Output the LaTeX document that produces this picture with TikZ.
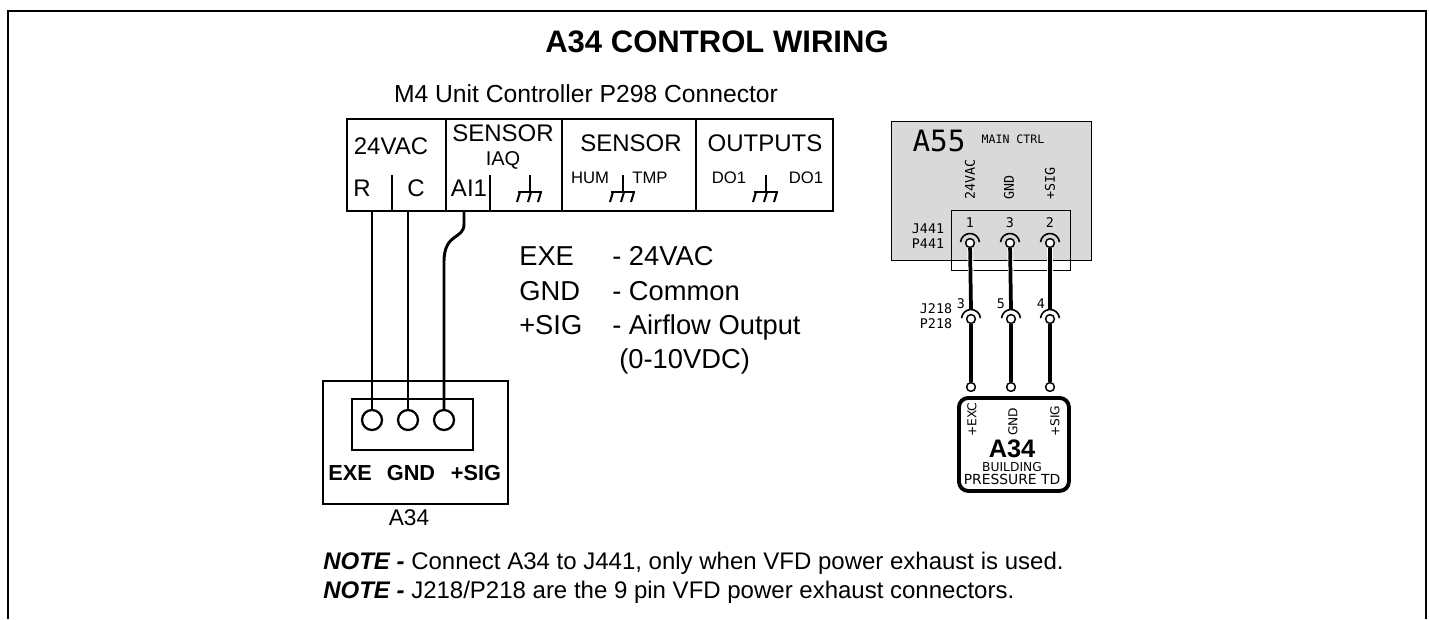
\documentclass[tikz,border=0pt]{standalone}
\usepackage{fontspec}
\setmainfont{Liberation Sans}
\newfontfamily\monofont{DejaVu Sans Mono}
\newfontfamily\dejafont{DejaVu Sans}
\usetikzlibrary{positioning}
\tikzset{
  wire/.style={line width=2.8pt},
  thinwire/.style={line width=2.2pt},
  pin/.style={circle,draw,line width=1.1pt,fill=white,inner sep=0pt,minimum size=6.6pt},
  bigpin/.style={circle,draw,line width=1.7pt,inner sep=0pt,minimum size=15pt},
  boxed/.style={draw,line width=1.8pt,inner sep=0pt,anchor=north west},
  small/.style={inner sep=0pt,font=\fontsize{12.5}{14}\selectfont},
  mono/.style={inner sep=0pt,font=\monofont\fontsize{10}{11}\selectfont},
  deja/.style={inner sep=0pt,font=\dejafont\fontsize{9.2}{10}\selectfont},
}
\newcommand{\groundmark}[2]{%
  \draw[line width=1.5pt] (#1,#2) -- (#1,#2+17);
  \draw[line width=1.5pt] (#1-12,#2+17) -- (#1+12,#2+17);
  \foreach \k in {-10,1,11} \draw[line width=1.5pt] (#1+\k,#2+17) -- (#1+\k-3,#2+27);
}
\begin{document}
\begin{tikzpicture}[x=0.75pt,y=-0.75pt]

  \useasboundingbox (0,0) rectangle (1429,619);
  \draw[line width=2.2pt] (8,619) -- (8,11) -- (1426,11) -- (1426,619);

  \node[font=\bfseries\fontsize{23.3}{26}\selectfont,inner sep=0pt] (title) at (717,42) {A34 CONTROL WIRING};
  \node[inner sep=0pt,font=\fontsize{18.5}{20}\selectfont] (p298) at (586,94) {M4 Unit Controller P298 Connector};

  % controller terminal strip
  \node[boxed,minimum width=486*0.75pt,minimum height=92*0.75pt] (strip) at (346,118) {};
  \foreach \x in {446,562,696} \draw[line width=1.8pt] (\x,118) -- (\x,212);
  \foreach \x in {392,490} \draw[line width=1.8pt] (\x,175) -- (\x,212);

  \begin{scope}[every node/.style={inner sep=0pt,font=\fontsize{18}{20}\selectfont}]
    \node (vac)  at (391,146) {24VAC};
    \node (r)    at (362,188) {R};
    \node (c)    at (416,188) {C};
    \node (ai1)  at (469,188) {AI1};
    \node (sen1) at (503,133) {SENSOR};
    \node (sen2) at (631,143) {SENSOR};
    \node (outs) at (765,143) {OUTPUTS};
  \end{scope}
  \node[inner sep=0pt,font=\fontsize{15}{17}\selectfont] (iaq) at (503,160) {IAQ};
  \node[small] (hum)  at (590,178) {HUM};
  \node[small] (tmp)  at (650,178) {TMP};
  \node[small] (dol)  at (729,178) {DO1};
  \node[small] (dor)  at (806,178) {DO1};
  \groundmark{530}{175}
  \groundmark{623}{175}
  \groundmark{766}{175}

  % legend
  \begin{scope}[every node/.style={inner sep=0pt,anchor=base west,font=\fontsize{20.5}{22}\selectfont}]
    \node (exe)  at (519,265) {EXE};
    \node (gnd)  at (519,300) {GND};
    \node (sig)  at (519,334) {+SIG};
    \node (lexe) at (612,265) {- 24VAC};
    \node (lgnd) at (612,300) {- Common};
    \node (lsig) at (612,334) {- Airflow Output};
    \node (lvdc) at (619,368) {(0-10VDC)};
  \end{scope}

  % A34 terminal box
  \node[boxed,minimum width=185*0.75pt,minimum height=123*0.75pt] (a34box) at (322,380) {};
  \node[boxed,minimum width=121*0.75pt,minimum height=51*0.75pt] (a34term) at (351,398) {};
  \node[bigpin] (t1) at (372,420) {};
  \node[bigpin] (t2) at (408,420) {};
  \node[bigpin] (t3) at (444,420) {};
  \node[inner sep=0pt,font=\bfseries\fontsize{16.3}{18}\selectfont] (lt1) at (350,473) {EXE};
  \node[inner sep=0pt,font=\bfseries\fontsize{16.3}{18}\selectfont] (lt2) at (411,473) {GND};
  \node[inner sep=0pt,font=\bfseries\fontsize{16.3}{18}\selectfont] (lt3) at (476,473) {+SIG};
  \node[inner sep=0pt,font=\fontsize{17}{19}\selectfont] (a34name) at (409,518) {A34};

  \coordinate (sr) at (372,210);
  \coordinate (sc) at (408,210);
  \coordinate (sa) at (464,210);
  \draw[thinwire] (sr) -- (t1);
  \draw[thinwire] (sc) -- (t2);
  \draw[thinwire] (sa) -- ++(0,14) .. controls (464,240) and (444,232) .. (444,262) -- (t3);

  % A55 board
  \node[boxed,fill=black!15,line width=1pt,minimum width=200*0.75pt,minimum height=139*0.75pt] (a55) at (891,121) {};
  \node[boxed,line width=1pt,minimum width=119*0.75pt,minimum height=60*0.75pt] (j441) at (951,210) {};
  \node[inner sep=0pt,font=\monofont\fontsize{22}{24}\selectfont] (a55name) at (939,141) {A55};
  \node[mono,font=\monofont\fontsize{8.7}{10}\selectfont] (ctrl) at (1013,139) {MAIN CTRL};
  \node[mono,rotate=90,anchor=west] (l24) at (970,200) {24VAC};
  \node[mono,rotate=90,anchor=west] (lgn) at (1009,200) {GND};
  \node[mono,rotate=90,anchor=west] (lsg) at (1050,200) {+SIG};
  \node[mono,align=right] (j441l) at (928,236) {J441\\P441};
  \node[mono] (n1) at (970,223) {1};
  \node[mono] (n3) at (1010,223) {3};
  \node[mono] (n2) at (1050,223) {2};

  \node[pin] (a1) at (970,243) {};
  \node[pin] (a2) at (1010,243) {};
  \node[pin] (a3) at (1050,243) {};
  \node[pin] (b1) at (971,319) {};
  \node[pin] (b2) at (1011,319) {};
  \node[pin] (b3) at (1050,319) {};
  \node[pin] (c1) at (971,387) {};
  \node[pin] (c2) at (1011,387) {};
  \node[pin] (c3) at (1050,387) {};

  \foreach \x in {970,1010,1050} \draw[line width=1.2pt] (\x,243) ++(-5:9.5) arc (-5:-175:9.5);
  \foreach \x in {971,1011,1050} \draw[line width=1.2pt] (\x,319) ++(-5:9.5) arc (-5:-175:9.5);

  \coordinate (e1) at (971,309);
  \coordinate (e2) at (1011,309);
  \coordinate (e3) at (1050,309);
  \draw[white,line width=4.4pt] (a1) -- (971,280) (a2) -- (1011,280) (a3) -- (1050,280);
  \draw[wire] (a1) -- (e1);
  \draw[wire] (a2) -- (e2);
  \draw[wire] (a3) -- (e3);
  \draw[wire] (b1) -- (c1);
  \draw[wire] (b2) -- (c2);
  \draw[wire] (b3) -- (c3);

  \node[mono,align=right] (j218l) at (936,316) {J218\\P218};
  \node[mono] (m3) at (961,304) {3};
  \node[mono] (m5) at (1001,304) {5};
  \node[mono] (m4) at (1041,304) {4};

  % A34 transducer
  \node[draw,line width=2.9pt,rounded corners=7pt,inner sep=0pt,anchor=north west,minimum width=110*0.75pt,minimum height=93*0.75pt] (td) at (957,396) {};
  \node[deja,rotate=90,anchor=west] (lexc) at (972,437) {+EXC};
  \node[deja,rotate=90,anchor=west] (lgn2) at (1013,436) {GND};
  \node[deja,rotate=90,anchor=west] (lsg2) at (1055,437) {+SIG};
  \node[inner sep=0pt,font=\bfseries\fontsize{19}{20}\selectfont] (tdname) at (1012,449) {A34};
  \node[deja] (bld) at (1012,467) {BUILDING};
  \node[deja,font=\dejafont\fontsize{10.4}{11}\selectfont] (prs) at (1012,479) {PRESSURE TD};

  % notes
  \node[inner sep=0pt,anchor=base west,font=\fontsize{18}{20}\selectfont] (note1) at (323,569) {\textbf{\textit{NOTE -}} Connect A34 to J441, only when VFD power exhaust is used.};
  \node[inner sep=0pt,anchor=base west,font=\fontsize{18}{20}\selectfont] (note2) at (323,598) {\textbf{\textit{NOTE -}} J218/P218 are the 9 pin VFD power exhaust connectors.};

\end{tikzpicture}
\end{document}
